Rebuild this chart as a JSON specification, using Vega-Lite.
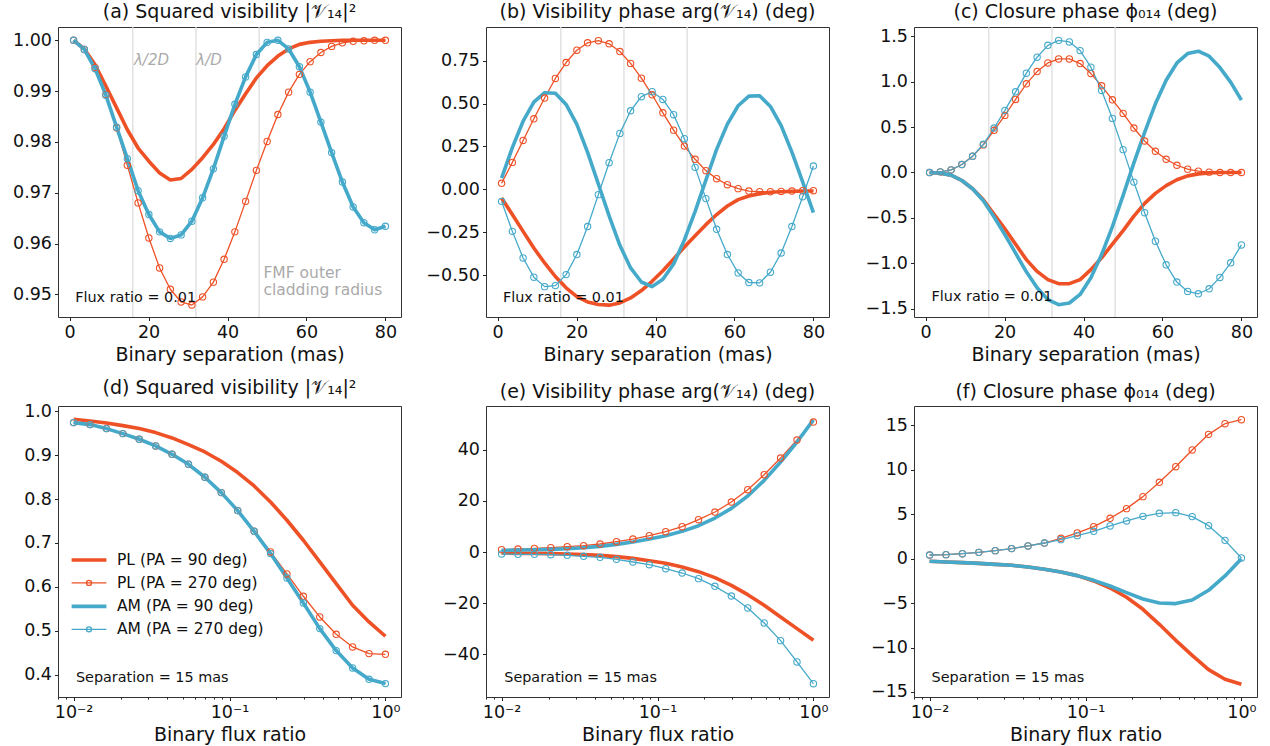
{
"$schema": "https://vega.github.io/schema/vega-lite/v6.json",
"padding": {"left": 12, "top": 2, "right": 5, "bottom": 5},
"datasets": {
"a": [
{"x":1,"PL90":1.0,"PL270":1.0,"AM90":1.0,"AM270":1.0},
{"x":3.724,"PL90":0.9983,"PL270":0.9982,"AM90":0.9982,"AM270":0.9982},
{"x":6.448,"PL90":0.9952,"PL270":0.9946,"AM90":0.9944,"AM270":0.9944},
{"x":9.172,"PL90":0.991,"PL270":0.9893,"AM90":0.9892,"AM270":0.9892},
{"x":11.897,"PL90":0.9867,"PL270":0.9828,"AM90":0.9829,"AM270":0.9829},
{"x":14.621,"PL90":0.9824,"PL270":0.9754,"AM90":0.9767,"AM270":0.9767},
{"x":17.345,"PL90":0.9788,"PL270":0.968,"AM90":0.9704,"AM270":0.9704},
{"x":20.069,"PL90":0.9762,"PL270":0.9611,"AM90":0.9657,"AM270":0.9657},
{"x":22.793,"PL90":0.9739,"PL270":0.9552,"AM90":0.9623,"AM270":0.9623},
{"x":25.517,"PL90":0.9725,"PL270":0.951,"AM90":0.961,"AM270":0.961},
{"x":28.241,"PL90":0.9728,"PL270":0.9485,"AM90":0.9617,"AM270":0.9617},
{"x":30.966,"PL90":0.9746,"PL270":0.9479,"AM90":0.9644,"AM270":0.9644},
{"x":33.69,"PL90":0.9769,"PL270":0.9495,"AM90":0.969,"AM270":0.969},
{"x":36.414,"PL90":0.9795,"PL270":0.9524,"AM90":0.9747,"AM270":0.9747},
{"x":39.138,"PL90":0.9826,"PL270":0.9569,"AM90":0.9811,"AM270":0.9811},
{"x":41.862,"PL90":0.9862,"PL270":0.9623,"AM90":0.9874,"AM270":0.9874},
{"x":44.586,"PL90":0.9895,"PL270":0.9683,"AM90":0.9928,"AM270":0.9928},
{"x":47.31,"PL90":0.9926,"PL270":0.9744,"AM90":0.9972,"AM270":0.9972},
{"x":50.034,"PL90":0.995,"PL270":0.9801,"AM90":0.9996,"AM270":0.9996},
{"x":52.759,"PL90":0.9969,"PL270":0.9854,"AM90":1.0,"AM270":1.0},
{"x":55.483,"PL90":0.9983,"PL270":0.9898,"AM90":0.9983,"AM270":0.9983},
{"x":58.207,"PL90":0.9992,"PL270":0.9933,"AM90":0.9948,"AM270":0.9948},
{"x":60.931,"PL90":0.9996,"PL270":0.9958,"AM90":0.9898,"AM270":0.9898},
{"x":63.655,"PL90":0.9998,"PL270":0.9976,"AM90":0.9839,"AM270":0.9839},
{"x":66.379,"PL90":0.9999,"PL270":0.9988,"AM90":0.9779,"AM270":0.9779},
{"x":69.103,"PL90":1.0,"PL270":0.9995,"AM90":0.9721,"AM270":0.9721},
{"x":71.828,"PL90":1.0,"PL270":0.9998,"AM90":0.9672,"AM270":0.9672},
{"x":74.552,"PL90":1.0,"PL270":0.9999,"AM90":0.9641,"AM270":0.9641},
{"x":77.276,"PL90":1.0,"PL270":1.0,"AM90":0.9627,"AM270":0.9627},
{"x":80,"PL90":1.0,"PL270":1.0,"AM90":0.9634,"AM270":0.9634}
],
"b": [
{"x":1,"PL90":-0.05,"PL270":0.035,"AM90":0.065,"AM270":-0.07},
{"x":3.724,"PL90":-0.147,"PL270":0.157,"AM90":0.243,"AM270":-0.245},
{"x":6.448,"PL90":-0.245,"PL270":0.285,"AM90":0.397,"AM270":-0.4},
{"x":9.172,"PL90":-0.342,"PL270":0.411,"AM90":0.508,"AM270":-0.512},
{"x":11.897,"PL90":-0.429,"PL270":0.532,"AM90":0.563,"AM270":-0.567},
{"x":14.621,"PL90":-0.508,"PL270":0.646,"AM90":0.56,"AM270":-0.561},
{"x":17.345,"PL90":-0.574,"PL270":0.739,"AM90":0.495,"AM270":-0.497},
{"x":20.069,"PL90":-0.625,"PL270":0.811,"AM90":0.378,"AM270":-0.38},
{"x":22.793,"PL90":-0.656,"PL270":0.854,"AM90":0.215,"AM270":-0.217},
{"x":25.517,"PL90":-0.671,"PL270":0.866,"AM90":0.031,"AM270":-0.031},
{"x":28.241,"PL90":-0.675,"PL270":0.848,"AM90":-0.155,"AM270":0.155},
{"x":30.966,"PL90":-0.662,"PL270":0.803,"AM90":-0.326,"AM270":0.326},
{"x":33.69,"PL90":-0.633,"PL270":0.734,"AM90":-0.458,"AM270":0.458},
{"x":36.414,"PL90":-0.59,"PL270":0.648,"AM90":-0.54,"AM270":0.54},
{"x":39.138,"PL90":-0.536,"PL270":0.551,"AM90":-0.567,"AM270":0.569},
{"x":41.862,"PL90":-0.474,"PL270":0.446,"AM90":-0.524,"AM270":0.524},
{"x":44.586,"PL90":-0.406,"PL270":0.345,"AM90":-0.435,"AM270":0.435},
{"x":47.31,"PL90":-0.336,"PL270":0.252,"AM90":-0.295,"AM270":0.295},
{"x":50.034,"PL90":-0.27,"PL270":0.175,"AM90":-0.128,"AM270":0.128},
{"x":52.759,"PL90":-0.206,"PL270":0.109,"AM90":0.054,"AM270":-0.054},
{"x":55.483,"PL90":-0.147,"PL270":0.062,"AM90":0.233,"AM270":-0.233},
{"x":58.207,"PL90":-0.097,"PL270":0.027,"AM90":0.38,"AM270":-0.38},
{"x":60.931,"PL90":-0.06,"PL270":0.004,"AM90":0.487,"AM270":-0.487},
{"x":63.655,"PL90":-0.039,"PL270":-0.01,"AM90":0.543,"AM270":-0.543},
{"x":66.379,"PL90":-0.025,"PL270":-0.014,"AM90":0.545,"AM270":-0.545},
{"x":69.103,"PL90":-0.017,"PL270":-0.014,"AM90":0.483,"AM270":-0.483},
{"x":71.828,"PL90":-0.014,"PL270":-0.012,"AM90":0.371,"AM270":-0.371},
{"x":74.552,"PL90":-0.012,"PL270":-0.01,"AM90":0.217,"AM270":-0.217},
{"x":77.276,"PL90":-0.01,"PL270":-0.008,"AM90":0.043,"AM270":-0.043},
{"x":80,"PL90":-0.01,"PL270":-0.008,"AM90":-0.136,"AM270":0.136}
],
"c": [
{"x":1,"PL90":0,"PL270":0,"AM90":0,"AM270":0},
{"x":3.724,"PL90":-0.007,"PL270":0.007,"AM90":-0.007,"AM270":0.007},
{"x":6.448,"PL90":-0.029,"PL270":0.029,"AM90":-0.029,"AM270":0.029},
{"x":9.172,"PL90":-0.088,"PL270":0.088,"AM90":-0.088,"AM270":0.088},
{"x":11.897,"PL90":-0.179,"PL270":0.179,"AM90":-0.179,"AM270":0.179},
{"x":14.621,"PL90":-0.3,"PL270":0.304,"AM90":-0.311,"AM270":0.311},
{"x":17.345,"PL90":-0.46,"PL270":0.465,"AM90":-0.49,"AM270":0.49},
{"x":20.069,"PL90":-0.62,"PL270":0.629,"AM90":-0.684,"AM270":0.684},
{"x":22.793,"PL90":-0.79,"PL270":0.805,"AM90":-0.889,"AM270":0.889},
{"x":25.517,"PL90":-0.96,"PL270":0.977,"AM90":-1.094,"AM270":1.094},
{"x":28.241,"PL90":-1.09,"PL270":1.112,"AM90":-1.27,"AM270":1.27},
{"x":30.966,"PL90":-1.18,"PL270":1.207,"AM90":-1.401,"AM270":1.401},
{"x":33.69,"PL90":-1.225,"PL270":1.251,"AM90":-1.456,"AM270":1.456},
{"x":36.414,"PL90":-1.225,"PL270":1.251,"AM90":-1.438,"AM270":1.438},
{"x":39.138,"PL90":-1.18,"PL270":1.2,"AM90":-1.343,"AM270":1.343},
{"x":41.862,"PL90":-1.07,"PL270":1.09,"AM90":-1.16,"AM270":1.16},
{"x":44.586,"PL90":-0.94,"PL270":0.955,"AM90":-0.904,"AM270":0.904},
{"x":47.31,"PL90":-0.79,"PL270":0.801,"AM90":-0.596,"AM270":0.596},
{"x":50.034,"PL90":-0.64,"PL270":0.651,"AM90":-0.252,"AM270":0.252},
{"x":52.759,"PL90":-0.48,"PL270":0.49,"AM90":0.106,"AM270":-0.106},
{"x":55.483,"PL90":-0.34,"PL270":0.347,"AM90":0.443,"AM270":-0.443},
{"x":58.207,"PL90":-0.23,"PL270":0.234,"AM90":0.757,"AM270":-0.757},
{"x":60.931,"PL90":-0.145,"PL270":0.146,"AM90":1.017,"AM270":-1.017},
{"x":63.655,"PL90":-0.08,"PL270":0.08,"AM90":1.207,"AM270":-1.207},
{"x":66.379,"PL90":-0.037,"PL270":0.037,"AM90":1.31,"AM270":-1.31},
{"x":69.103,"PL90":-0.015,"PL270":0.015,"AM90":1.336,"AM270":-1.336},
{"x":71.828,"PL90":-0.004,"PL270":0.004,"AM90":1.281,"AM270":-1.281},
{"x":74.552,"PL90":0,"PL270":0,"AM90":1.156,"AM270":-1.156},
{"x":77.276,"PL90":0,"PL270":0,"AM90":0.995,"AM270":-0.995},
{"x":80,"PL90":0,"PL270":0,"AM90":0.798,"AM270":-0.798}
],
"d": [
{"x":0.01,"PL90":0.9818,"PL270":0.9742,"AM90":0.9742,"AM270":0.9742},
{"x":0.012743,"PL90":0.978,"PL270":0.9696,"AM90":0.9696,"AM270":0.9696},
{"x":0.016238,"PL90":0.9734,"PL270":0.9605,"AM90":0.9605,"AM270":0.9605},
{"x":0.020691,"PL90":0.9673,"PL270":0.9491,"AM90":0.9491,"AM270":0.9491},
{"x":0.026367,"PL90":0.9605,"PL270":0.9362,"AM90":0.9362,"AM270":0.9362},
{"x":0.033598,"PL90":0.9514,"PL270":0.921,"AM90":0.921,"AM270":0.921},
{"x":0.042813,"PL90":0.9392,"PL270":0.902,"AM90":0.902,"AM270":0.902},
{"x":0.054556,"PL90":0.9241,"PL270":0.8792,"AM90":0.8792,"AM270":0.8792},
{"x":0.069519,"PL90":0.9073,"PL270":0.8496,"AM90":0.8496,"AM270":0.8496},
{"x":0.088587,"PL90":0.8861,"PL270":0.8147,"AM90":0.8147,"AM270":0.8147},
{"x":0.11288,"PL90":0.8603,"PL270":0.7737,"AM90":0.7737,"AM270":0.7737},
{"x":0.14384,"PL90":0.8299,"PL270":0.7266,"AM90":0.7266,"AM270":0.7266},
{"x":0.1833,"PL90":0.7934,"PL270":0.6795,"AM90":0.6757,"AM270":0.6757},
{"x":0.23357,"PL90":0.7517,"PL270":0.6294,"AM90":0.6203,"AM270":0.6203},
{"x":0.29764,"PL90":0.7061,"PL270":0.5785,"AM90":0.5633,"AM270":0.5633},
{"x":0.37927,"PL90":0.6567,"PL270":0.5314,"AM90":0.5048,"AM270":0.5048},
{"x":0.48329,"PL90":0.6074,"PL270":0.4919,"AM90":0.4547,"AM270":0.4547},
{"x":0.61585,"PL90":0.558,"PL270":0.463,"AM90":0.4152,"AM270":0.4152},
{"x":0.78476,"PL90":0.52,"PL270":0.4479,"AM90":0.3894,"AM270":0.3894},
{"x":1,"PL90":0.4874,"PL270":0.4463,"AM90":0.3795,"AM270":0.3795}
],
"e": [
{"x":0.01,"PL90":-0.39,"PL270":0.91,"AM90":0.65,"AM270":-0.78},
{"x":0.012743,"PL90":-0.52,"PL270":1.17,"AM90":0.78,"AM270":-0.91},
{"x":0.016238,"PL90":-0.52,"PL270":1.43,"AM90":0.91,"AM270":-0.91},
{"x":0.020691,"PL90":-0.65,"PL270":1.69,"AM90":1.04,"AM270":-1.04},
{"x":0.026367,"PL90":-0.78,"PL270":2.08,"AM90":1.3,"AM270":-1.3},
{"x":0.033598,"PL90":-1.04,"PL270":2.48,"AM90":1.69,"AM270":-1.69},
{"x":0.042813,"PL90":-1.3,"PL270":3.13,"AM90":2.21,"AM270":-2.08},
{"x":0.054556,"PL90":-1.82,"PL270":4.04,"AM90":3.0,"AM270":-2.87},
{"x":0.069519,"PL90":-2.48,"PL270":5.08,"AM90":3.91,"AM270":-3.91},
{"x":0.088587,"PL90":-3.39,"PL270":6.38,"AM90":5.08,"AM270":-4.95},
{"x":0.11288,"PL90":-4.43,"PL270":7.95,"AM90":6.38,"AM270":-6.52},
{"x":0.14384,"PL90":-5.86,"PL270":9.9,"AM90":8.08,"AM270":-8.21},
{"x":0.1833,"PL90":-7.69,"PL270":12.64,"AM90":10.29,"AM270":-10.42},
{"x":0.23357,"PL90":-10.03,"PL270":15.64,"AM90":13.29,"AM270":-13.42},
{"x":0.29764,"PL90":-13.03,"PL270":19.54,"AM90":17.07,"AM270":-17.2},
{"x":0.37927,"PL90":-16.68,"PL270":24.37,"AM90":21.89,"AM270":-21.89},
{"x":0.48329,"PL90":-20.85,"PL270":30.23,"AM90":28.01,"AM270":-27.75},
{"x":0.61585,"PL90":-25.41,"PL270":36.74,"AM90":35.18,"AM270":-34.66},
{"x":0.78476,"PL90":-29.97,"PL270":43.78,"AM90":43.0,"AM270":-43.0},
{"x":1,"PL90":-34.53,"PL270":50.81,"AM90":51.7,"AM270":-51.5}
],
"f": [
{"x":0.01,"PL90":-0.3,"PL270":0.41,"AM90":-0.3,"AM270":0.41},
{"x":0.012743,"PL90":-0.38,"PL270":0.45,"AM90":-0.38,"AM270":0.45},
{"x":0.016238,"PL90":-0.45,"PL270":0.56,"AM90":-0.45,"AM270":0.56},
{"x":0.020691,"PL90":-0.53,"PL270":0.71,"AM90":-0.53,"AM270":0.71},
{"x":0.026367,"PL90":-0.64,"PL270":0.9,"AM90":-0.64,"AM270":0.9},
{"x":0.033598,"PL90":-0.75,"PL270":1.13,"AM90":-0.75,"AM270":1.13},
{"x":0.042813,"PL90":-0.94,"PL270":1.43,"AM90":-0.94,"AM270":1.43},
{"x":0.054556,"PL90":-1.2,"PL270":1.76,"AM90":-1.2,"AM270":1.76},
{"x":0.069519,"PL90":-1.5,"PL270":2.29,"AM90":-1.5,"AM270":2.14},
{"x":0.088587,"PL90":-1.91,"PL270":2.89,"AM90":-1.91,"AM270":2.59},
{"x":0.11288,"PL90":-2.51,"PL270":3.6,"AM90":-2.44,"AM270":3.08},
{"x":0.14384,"PL90":-3.3,"PL270":4.54,"AM90":-3.08,"AM270":3.68},
{"x":0.1833,"PL90":-4.35,"PL270":5.63,"AM90":-3.83,"AM270":4.24},
{"x":0.23357,"PL90":-5.7,"PL270":6.98,"AM90":-4.54,"AM270":4.76},
{"x":0.29764,"PL90":-7.39,"PL270":8.59,"AM90":-4.99,"AM270":5.1},
{"x":0.37927,"PL90":-9.19,"PL270":10.35,"AM90":-5.06,"AM270":5.18},
{"x":0.48329,"PL90":-10.88,"PL270":12.23,"AM90":-4.65,"AM270":4.73},
{"x":0.61585,"PL90":-12.49,"PL270":13.99,"AM90":-3.56,"AM270":3.71},
{"x":0.78476,"PL90":-13.58,"PL270":15.19,"AM90":-1.95,"AM270":2.06},
{"x":1,"PL90":-14.14,"PL270":15.64,"AM90":0,"AM270":0.08}
]
},
"columns": 3,
"bounds": "flush",
"spacing": {"row": 89, "column": 85},
"resolve": {"scale": {"color": "independent", "strokeWidth": "independent"}, "legend": {"color": "independent"}},
"concat": [
{
"width": 343, "height": 290,
"title": "(a) Squared visibility |𝒱₁₄|²",
"layer": [
{"data": {"values": [{"v": 16}, {"v": 32}, {"v": 48}]}, "mark": {"type": "rule", "color": "#dddddd", "strokeWidth": 1.3}, "encoding": {"x": {"field": "v", "type": "quantitative"}}},
{"data": {"name": "a"}, "transform": [{"fold": ["PL90", "PL270", "AM90", "AM270"], "as": ["s", "val"]}],
 "mark": {"type": "line", "strokeJoin": "round"},
 "encoding": {
  "x": {"field": "x", "type": "quantitative", "scale": {"domain": [-2.95, 83.95], "nice": false, "zero": false}, "axis": {"values": [0, 20, 40, 60, 80], "format": "d", "title": "Binary separation (mas)"}},
  "y": {"field": "val", "type": "quantitative", "scale": {"domain": [0.94554, 1.00262], "nice": false, "zero": false}, "axis": {"values": [0.95, 0.96, 0.97, 0.98, 0.99, 1.0], "format": ".2f", "title": null}},
  "color": {"field": "s", "type": "nominal", "scale": {"domain": ["PL90", "PL270", "AM90", "AM270"], "range": ["#ee5126", "#ee5126", "#45a9ca", "#45a9ca"]}, "legend": null},
  "strokeWidth": {"field": "s", "type": "nominal", "scale": {"type": "ordinal", "domain": ["PL90", "PL270", "AM90", "AM270"], "range": [3.6, 1.3, 3.6, 1.3]}, "legend": null}
 }},
{"data": {"name": "a"}, "transform": [{"fold": ["PL90", "PL270", "AM90", "AM270"], "as": ["s", "val"]}, {"filter": "indexof(datum.s, '270') >= 0"}],
 "mark": {"type": "point", "filled": false, "size": 40, "strokeWidth": 1.1, "opacity": 1},
 "encoding": {
  "x": {"field": "x", "type": "quantitative"},
  "y": {"field": "val", "type": "quantitative"},
  "color": {"field": "s", "type": "nominal", "scale": {"domain": ["PL90", "PL270", "AM90", "AM270"], "range": ["#ee5126", "#ee5126", "#45a9ca", "#45a9ca"]}, "legend": null}
 }},
{"data": {"values": [{"t": "Flux ratio = 0.01", "x": 1.4, "y": 0.9493}]}, "mark": {"type": "text", "align": "left", "baseline": "middle", "fontSize": 14.4, "color": "#111"}, "encoding": {"x": {"field": "x", "type": "quantitative"}, "y": {"field": "y", "type": "quantitative"}, "text": {"field": "t"}}},
{"data": {"values": [{"t": "λ/2D", "x": 16.3, "y": 0.99607}, {"t": "λ/D", "x": 32.1, "y": 0.99607}]}, "mark": {"type": "text", "align": "left", "baseline": "middle", "fontSize": 15, "fontStyle": "italic", "color": "#aaaaaa"}, "encoding": {"x": {"field": "x", "type": "quantitative"}, "y": {"field": "y", "type": "quantitative"}, "text": {"field": "t"}}},
{"data": {"values": [{"t": "FMF outer\ncladding radius", "x": 49.1, "y": 0.95426}]}, "mark": {"type": "text", "align": "left", "baseline": "middle", "fontSize": 15.5, "lineBreak": "\n", "lineHeight": 17, "color": "#aaaaaa"}, "encoding": {"x": {"field": "x", "type": "quantitative"}, "y": {"field": "y", "type": "quantitative"}, "text": {"field": "t"}}}
]
},
{
"width": 343, "height": 290,
"title": "(b) Visibility phase arg(𝒱₁₄) (deg)",
"layer": [
{"data": {"values": [{"v": 16}, {"v": 32}, {"v": 48}]}, "mark": {"type": "rule", "color": "#dddddd", "strokeWidth": 1.3}, "encoding": {"x": {"field": "v", "type": "quantitative"}}},
{"data": {"name": "b"}, "transform": [{"fold": ["PL90", "PL270", "AM90", "AM270"], "as": ["s", "val"]}],
 "mark": {"type": "line", "strokeJoin": "round"},
 "encoding": {
  "x": {"field": "x", "type": "quantitative", "scale": {"domain": [-2.95, 83.95], "nice": false, "zero": false}, "axis": {"values": [0, 20, 40, 60, 80], "format": "d", "title": "Binary separation (mas)"}},
  "y": {"field": "val", "type": "quantitative", "scale": {"domain": [-0.744, 0.946], "nice": false, "zero": false}, "axis": {"values": [-0.75, -0.5, -0.25, 0, 0.25, 0.5, 0.75], "format": ".2f", "title": null}},
  "color": {"field": "s", "type": "nominal", "scale": {"domain": ["PL90", "PL270", "AM90", "AM270"], "range": ["#ee5126", "#ee5126", "#45a9ca", "#45a9ca"]}, "legend": null},
  "strokeWidth": {"field": "s", "type": "nominal", "scale": {"type": "ordinal", "domain": ["PL90", "PL270", "AM90", "AM270"], "range": [3.6, 1.3, 3.6, 1.3]}, "legend": null}
 }},
{"data": {"name": "b"}, "transform": [{"fold": ["PL90", "PL270", "AM90", "AM270"], "as": ["s", "val"]}, {"filter": "indexof(datum.s, '270') >= 0"}],
 "mark": {"type": "point", "filled": false, "size": 40, "strokeWidth": 1.1, "opacity": 1},
 "encoding": {
  "x": {"field": "x", "type": "quantitative"},
  "y": {"field": "val", "type": "quantitative"},
  "color": {"field": "s", "type": "nominal", "scale": {"domain": ["PL90", "PL270", "AM90", "AM270"], "range": ["#ee5126", "#ee5126", "#45a9ca", "#45a9ca"]}, "legend": null}
 }},
{"data": {"values": [{"t": "Flux ratio = 0.01", "x": 1.35, "y": -0.633}]}, "mark": {"type": "text", "align": "left", "baseline": "middle", "fontSize": 14.4, "color": "#111"}, "encoding": {"x": {"field": "x", "type": "quantitative"}, "y": {"field": "y", "type": "quantitative"}, "text": {"field": "t"}}}
]
},
{
"width": 343, "height": 290,
"title": "(c) Closure phase ϕ₀₁₄ (deg)",
"layer": [
{"data": {"values": [{"v": 16}, {"v": 32}, {"v": 48}]}, "mark": {"type": "rule", "color": "#dddddd", "strokeWidth": 1.3}, "encoding": {"x": {"field": "v", "type": "quantitative"}}},
{"data": {"name": "c"}, "transform": [{"fold": ["PL90", "PL270", "AM90", "AM270"], "as": ["s", "val"]}],
 "mark": {"type": "line", "strokeJoin": "round"},
 "encoding": {
  "x": {"field": "x", "type": "quantitative", "scale": {"domain": [-2.95, 83.95], "nice": false, "zero": false}, "axis": {"values": [0, 20, 40, 60, 80], "format": "d", "title": "Binary separation (mas)"}},
  "y": {"field": "val", "type": "quantitative", "scale": {"domain": [-1.592, 1.603], "nice": false, "zero": false}, "axis": {"values": [-1.5, -1, -0.5, 0, 0.5, 1, 1.5], "format": ".1f", "title": null}},
  "color": {"field": "s", "type": "nominal", "scale": {"domain": ["PL90", "PL270", "AM90", "AM270"], "range": ["#ee5126", "#ee5126", "#45a9ca", "#45a9ca"]}, "legend": null},
  "strokeWidth": {"field": "s", "type": "nominal", "scale": {"type": "ordinal", "domain": ["PL90", "PL270", "AM90", "AM270"], "range": [3.6, 1.3, 3.6, 1.3]}, "legend": null}
 }},
{"data": {"name": "c"}, "transform": [{"fold": ["PL90", "PL270", "AM90", "AM270"], "as": ["s", "val"]}, {"filter": "indexof(datum.s, '270') >= 0"}],
 "mark": {"type": "point", "filled": false, "size": 40, "strokeWidth": 1.1, "opacity": 1},
 "encoding": {
  "x": {"field": "x", "type": "quantitative"},
  "y": {"field": "val", "type": "quantitative"},
  "color": {"field": "s", "type": "nominal", "scale": {"domain": ["PL90", "PL270", "AM90", "AM270"], "range": ["#ee5126", "#ee5126", "#45a9ca", "#45a9ca"]}, "legend": null}
 }},
{"data": {"values": [{"t": "Flux ratio = 0.01", "x": 1.5, "y": -1.372}]}, "mark": {"type": "text", "align": "left", "baseline": "middle", "fontSize": 14.4, "color": "#111"}, "encoding": {"x": {"field": "x", "type": "quantitative"}, "y": {"field": "y", "type": "quantitative"}, "text": {"field": "t"}}}
]
},
{
"width": 343, "height": 291,
"title": "(d) Squared visibility |𝒱₁₄|²",
"layer": [
{"data": {"name": "d"}, "transform": [{"fold": ["PL90", "PL270", "AM90", "AM270"], "as": ["s", "val"]}],
 "mark": {"type": "line", "strokeJoin": "round"},
 "encoding": {
  "x": {"field": "x", "type": "quantitative", "scale": {"type": "log", "domain": [0.007943, 1.2589], "nice": false}, "axis": {"values": [0.008, 0.009, 0.01, 0.02, 0.03, 0.04, 0.05, 0.06, 0.07, 0.08, 0.09, 0.1, 0.2, 0.3, 0.4, 0.5, 0.6, 0.7, 0.8, 0.9, 1], "labelExpr": "datum.value == 0.01 ? '10⁻²' : datum.value == 0.1 ? '10⁻¹' : datum.value == 1 ? '10⁰' : ''", "tickSize": {"condition": {"test": "datum.value == 0.01 || datum.value == 0.1 || datum.value == 1", "value": 3.5}, "value": 2}, "title": "Binary flux ratio"}},
  "y": {"field": "val", "type": "quantitative", "scale": {"domain": [0.349, 1.012], "nice": false, "zero": false}, "axis": {"values": [0.4, 0.5, 0.6, 0.7, 0.8, 0.9, 1.0], "format": ".1f", "title": null}},
  "color": {"field": "s", "type": "nominal", "scale": {"domain": ["PL90", "PL270", "AM90", "AM270"], "range": ["#ee5126", "#ee5126", "#45a9ca", "#45a9ca"]},
   "legend": {"orient": "none", "legendX": 23, "legendY": 146, "title": null, "labelFontSize": 15.5, "labelColor": "#111", "symbolSize": 144, "labelOffset": 20, "rowPadding": 6.2, "symbolType": "stroke",
     "labelExpr": "datum.label == 'PL90' ? 'PL (PA = 90 deg)' : datum.label == 'PL270' ? 'PL (PA = 270 deg)' : datum.label == 'AM90' ? 'AM (PA = 90 deg)' : 'AM (PA = 270 deg)'",
     "encode": {"symbols": {"update": {"shape": {"signal": "indexof(datum.value, '270') >= 0 ? 'M-2.9,0H2.9M0.42,0A0.42,0.42 0 1 1 -0.42,0A0.42,0.42 0 1 1 0.42,0' : 'M-2.9,0H2.9'"}, "strokeWidth": {"signal": "indexof(datum.value, '270') >= 0 ? 1.3 : 3.6"}, "fill": {"value": "transparent"}}}}}},
  "strokeWidth": {"field": "s", "type": "nominal", "scale": {"type": "ordinal", "domain": ["PL90", "PL270", "AM90", "AM270"], "range": [3.6, 1.3, 3.6, 1.3]}, "legend": null}
 }},
{"data": {"name": "d"}, "transform": [{"fold": ["PL90", "PL270", "AM90", "AM270"], "as": ["s", "val"]}, {"filter": "indexof(datum.s, '270') >= 0"}],
 "mark": {"type": "point", "filled": false, "size": 40, "strokeWidth": 1.1, "opacity": 1},
 "encoding": {
  "x": {"field": "x", "type": "quantitative"},
  "y": {"field": "val", "type": "quantitative"},
  "color": {"field": "s", "type": "nominal", "scale": {"domain": ["PL90", "PL270", "AM90", "AM270"], "range": ["#ee5126", "#ee5126", "#45a9ca", "#45a9ca"]}, "legend": null}
 }},
{"data": {"values": [{"t": "Separation = 15 mas", "x": 0.01035, "y": 0.3932}]}, "mark": {"type": "text", "align": "left", "baseline": "middle", "fontSize": 14.4, "color": "#111"}, "encoding": {"x": {"field": "x", "type": "quantitative"}, "y": {"field": "y", "type": "quantitative"}, "text": {"field": "t"}}}
]
},
{
"width": 343, "height": 291,
"title": "(e) Visibility phase arg(𝒱₁₄) (deg)",
"layer": [
{"data": {"name": "e"}, "transform": [{"fold": ["PL90", "PL270", "AM90", "AM270"], "as": ["s", "val"]}],
 "mark": {"type": "line", "strokeJoin": "round"},
 "encoding": {
  "x": {"field": "x", "type": "quantitative", "scale": {"type": "log", "domain": [0.007943, 1.2589], "nice": false}, "axis": {"values": [0.008, 0.009, 0.01, 0.02, 0.03, 0.04, 0.05, 0.06, 0.07, 0.08, 0.09, 0.1, 0.2, 0.3, 0.4, 0.5, 0.6, 0.7, 0.8, 0.9, 1], "labelExpr": "datum.value == 0.01 ? '10⁻²' : datum.value == 0.1 ? '10⁻¹' : datum.value == 1 ? '10⁰' : ''", "tickSize": {"condition": {"test": "datum.value == 0.01 || datum.value == 0.1 || datum.value == 1", "value": 3.5}, "value": 2}, "title": "Binary flux ratio"}},
  "y": {"field": "val", "type": "quantitative", "scale": {"domain": [-56.7, 57.1], "nice": false, "zero": false}, "axis": {"values": [-40, -20, 0, 20, 40], "format": "d", "title": null}},
  "color": {"field": "s", "type": "nominal", "scale": {"domain": ["PL90", "PL270", "AM90", "AM270"], "range": ["#ee5126", "#ee5126", "#45a9ca", "#45a9ca"]}, "legend": null},
  "strokeWidth": {"field": "s", "type": "nominal", "scale": {"type": "ordinal", "domain": ["PL90", "PL270", "AM90", "AM270"], "range": [3.6, 1.3, 3.6, 1.3]}, "legend": null}
 }},
{"data": {"name": "e"}, "transform": [{"fold": ["PL90", "PL270", "AM90", "AM270"], "as": ["s", "val"]}, {"filter": "indexof(datum.s, '270') >= 0"}],
 "mark": {"type": "point", "filled": false, "size": 40, "strokeWidth": 1.1, "opacity": 1},
 "encoding": {
  "x": {"field": "x", "type": "quantitative"},
  "y": {"field": "val", "type": "quantitative"},
  "color": {"field": "s", "type": "nominal", "scale": {"domain": ["PL90", "PL270", "AM90", "AM270"], "range": ["#ee5126", "#ee5126", "#45a9ca", "#45a9ca"]}, "legend": null}
 }},
{"data": {"values": [{"t": "Separation = 15 mas", "x": 0.0104, "y": -49.1}]}, "mark": {"type": "text", "align": "left", "baseline": "middle", "fontSize": 14.4, "color": "#111"}, "encoding": {"x": {"field": "x", "type": "quantitative"}, "y": {"field": "y", "type": "quantitative"}, "text": {"field": "t"}}}
]
},
{
"width": 343, "height": 291,
"title": "(f) Closure phase ϕ₀₁₄ (deg)",
"layer": [
{"data": {"name": "f"}, "transform": [{"fold": ["PL90", "PL270", "AM90", "AM270"], "as": ["s", "val"]}],
 "mark": {"type": "line", "strokeJoin": "round"},
 "encoding": {
  "x": {"field": "x", "type": "quantitative", "scale": {"type": "log", "domain": [0.007943, 1.2589], "nice": false}, "axis": {"values": [0.008, 0.009, 0.01, 0.02, 0.03, 0.04, 0.05, 0.06, 0.07, 0.08, 0.09, 0.1, 0.2, 0.3, 0.4, 0.5, 0.6, 0.7, 0.8, 0.9, 1], "labelExpr": "datum.value == 0.01 ? '10⁻²' : datum.value == 0.1 ? '10⁻¹' : datum.value == 1 ? '10⁰' : ''", "tickSize": {"condition": {"test": "datum.value == 0.01 || datum.value == 0.1 || datum.value == 1", "value": 3.5}, "value": 2}, "title": "Binary flux ratio"}},
  "y": {"field": "val", "type": "quantitative", "scale": {"domain": [-15.57, 17.18], "nice": false, "zero": false}, "axis": {"values": [-15, -10, -5, 0, 5, 10, 15], "format": "d", "title": null}},
  "color": {"field": "s", "type": "nominal", "scale": {"domain": ["PL90", "PL270", "AM90", "AM270"], "range": ["#ee5126", "#ee5126", "#45a9ca", "#45a9ca"]}, "legend": null},
  "strokeWidth": {"field": "s", "type": "nominal", "scale": {"type": "ordinal", "domain": ["PL90", "PL270", "AM90", "AM270"], "range": [3.6, 1.3, 3.6, 1.3]}, "legend": null}
 }},
{"data": {"name": "f"}, "transform": [{"fold": ["PL90", "PL270", "AM90", "AM270"], "as": ["s", "val"]}, {"filter": "indexof(datum.s, '270') >= 0"}],
 "mark": {"type": "point", "filled": false, "size": 40, "strokeWidth": 1.1, "opacity": 1},
 "encoding": {
  "x": {"field": "x", "type": "quantitative"},
  "y": {"field": "val", "type": "quantitative"},
  "color": {"field": "s", "type": "nominal", "scale": {"domain": ["PL90", "PL270", "AM90", "AM270"], "range": ["#ee5126", "#ee5126", "#45a9ca", "#45a9ca"]}, "legend": null}
 }},
{"data": {"values": [{"t": "Separation = 15 mas", "x": 0.0103, "y": -13.39}]}, "mark": {"type": "text", "align": "left", "baseline": "middle", "fontSize": 14.4, "color": "#111"}, "encoding": {"x": {"field": "x", "type": "quantitative"}, "y": {"field": "y", "type": "quantitative"}, "text": {"field": "t"}}}
]
}
],
"config": {
 "font": "DejaVu Sans",
 "background": "white",
 "view": {"stroke": "#333333", "strokeWidth": 1},
 "axis": {"domain": false, "grid": false, "ticks": true, "tickSize": 3.5, "tickColor": "#222222", "tickWidth": 1, "labelFontSize": 17.5, "labelColor": "#111111", "labelPadding": 3, "labelOverlap": false, "labelFlush": false, "titleFontSize": 19, "titleFontWeight": "normal", "titleColor": "#111111", "titlePadding": 4, "labelFont": "DejaVu Sans", "titleFont": "DejaVu Sans"},
 "title": {"fontSize": 19, "fontWeight": "normal", "font": "DejaVu Sans", "offset": 4, "color": "#111111"},
 "legend": {"labelFont": "DejaVu Sans"}
}
}
